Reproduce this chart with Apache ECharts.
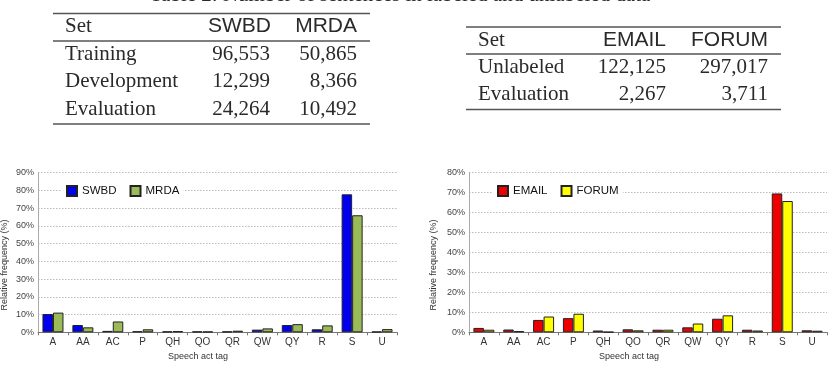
<!DOCTYPE html>
<html>
<head>
<meta charset="utf-8">
<script src="https://cdn.jsdelivr.net/npm/echarts@6/dist/echarts.min.js"></script>
<style>
html,body{margin:0;padding:0;background:#fff;}
#c{width:835px;height:370px;}
</style>
</head>
<body>
<div id="c"></div>
<script>
// ---- data ----
const tags = ['A','AA','AC','P','QH','QO','QR','QW','QY','R','S','U'];
const swbd  = [10.3, 4.1, 0.8, 0.6, 0.5, 0.5, 0.5, 1.5, 4.1, 1.7, 77.8, 0.4];
const mrda  = [11.1, 2.8, 6.1, 1.7, 0.7, 0.4, 0.9, 2.2, 4.6, 3.9, 66.0, 1.8];
const email = [2.2, 1.4, 6.2, 7.1, 0.9, 1.5, 1.3, 2.5, 6.8, 1.3, 69.6, 1.0];
const forum = [1.3, 0.6, 7.9, 9.3, 0.2, 1.0, 1.3, 4.4, 8.5, 0.9, 65.8, 0.8];

const titleText = 'Table 2: Number of sentences in labeled and unlabeled data';
const t1Header = ['Set', 'SWBD', 'MRDA'];
const t1Rows = ['Training', 'Development', 'Evaluation'];
const t1Swbd = ['96,553', '12,299', '24,264'];
const t1Mrda = ['50,865', '8,366', '10,492'];
const t2Header = ['Set', 'EMAIL', 'FORUM'];
const t2Rows = ['Unlabeled', 'Evaluation'];
const t2Email = ['122,125', '2,267'];
const t2Forum = ['297,017', '3,711'];

const yTitle = 'Relative frequency (%)';
const xTitle = 'Speech act tag';

// ---- styles ----
const SERIF = 'Liberation Serif';
const SANS = 'Liberation Sans';
const TXT = '#2a2a2a';

function txt(x, y, s, font, align) {
  return {type:'text', x:x, y:y, silent:true,
    style:{text:s, font:font, fill:TXT, align:align, verticalAlign:'middle'}};
}
function rule(x1, x2, y) {
  return {type:'line', silent:true, shape:{x1:x1, y1:y, x2:x2, y2:y},
    style:{stroke:'#555', lineWidth:1.3}};
}

const graphics = [];
graphics.push({type:'text', x:400, y:-5, silent:true,
  style:{text:titleText, font:'21px ' + SERIF, fill:TXT, align:'center', verticalAlign:'middle'}});

// table 1
graphics.push(rule(53, 370, 13.5), rule(53, 370, 41), rule(53, 370, 124));
graphics.push(txt(65, 26, t1Header[0], '21px ' + SERIF, 'left'));
graphics.push(txt(271, 26, t1Header[1], '21px ' + SANS, 'right'));
graphics.push(txt(357, 26, t1Header[2], '21px ' + SANS, 'right'));
const t1Y = [54, 81.5, 109];
t1Rows.forEach((r, i) => {
  graphics.push(txt(65, t1Y[i], r, '21px ' + SERIF, 'left'));
  graphics.push(txt(270, t1Y[i], t1Swbd[i], '21px ' + SERIF, 'right'));
  graphics.push(txt(357, t1Y[i], t1Mrda[i], '21px ' + SERIF, 'right'));
});

// table 2
graphics.push(rule(466, 781, 27), rule(466, 781, 54), rule(466, 781, 109.5));
graphics.push(txt(478, 40, t2Header[0], '21px ' + SERIF, 'left'));
graphics.push(txt(666, 40, t2Header[1], '21px ' + SANS, 'right'));
graphics.push(txt(768, 40, t2Header[2], '21px ' + SANS, 'right'));
const t2Y = [67.5, 94.5];
t2Rows.forEach((r, i) => {
  graphics.push(txt(478, t2Y[i], r, '21px ' + SERIF, 'left'));
  graphics.push(txt(666, t2Y[i], t2Email[i], '21px ' + SERIF, 'right'));
  graphics.push(txt(768, t2Y[i], t2Forum[i], '21px ' + SERIF, 'right'));
});

// axis titles
graphics.push({type:'text', x:5, y:265, rotation:Math.PI/2, silent:true,
  style:{text:yTitle, font:'9px ' + SANS, fill:'#333', align:'center', verticalAlign:'middle'}});
graphics.push({type:'text', x:434, y:265, rotation:Math.PI/2, silent:true,
  style:{text:yTitle, font:'9px ' + SANS, fill:'#333', align:'center', verticalAlign:'middle'}});
graphics.push({type:'text', x:198, y:357, silent:true,
  style:{text:xTitle, font:'9px ' + SANS, fill:'#333', align:'center', verticalAlign:'middle'}});
graphics.push({type:'text', x:629, y:357, silent:true,
  style:{text:xTitle, font:'9px ' + SANS, fill:'#333', align:'center', verticalAlign:'middle'}});

function xAxisCfg(gi) {
  return {type:'category', gridIndex:gi, data:tags, boundaryGap:true,
    axisLine:{lineStyle:{color:'#777', width:1}},
    axisTick:{show:true, length:3, lineStyle:{color:'#777'}},
    axisLabel:{fontFamily:SANS, fontSize:10, color:'#333', margin:5}};
}
function yAxisCfg(gi, max) {
  return {type:'value', gridIndex:gi, min:0, max:max, interval:10,
    axisLine:{show:true, lineStyle:{color:'#aaa'}},
    axisTick:{show:false},
    axisLabel:{fontFamily:SANS, fontSize:9, color:'#444', formatter:'{value}%', margin:4},
    splitLine:{show:true, lineStyle:{color:'#bbb', type:[1.5,1.5], width:1}}};
}
function bar(name, data, gi, color) {
  return {name:name, type:'bar', xAxisIndex:gi, yAxisIndex:gi, data:data,
    barWidth:10.5, barGap:'0%', animation:false,
    itemStyle:{color:color, borderColor:'#222', borderWidth:1}};
}
function legendCfg(names, left) {
  return {data:names, left:left, top:184, orient:'horizontal',
    backgroundColor:'#fff', padding:[1,4,1,4], itemGap:13,
    itemWidth:10, itemHeight:10, icon:'rect',
    textStyle:{fontFamily:SANS, fontSize:11.5, color:'#111'}};
}

const chart = echarts.init(document.getElementById('c'), null, {renderer:'canvas'});
chart.setOption({
  animation:false,
  backgroundColor:'#fff',
  grid:[
    {left:38, top:172.7, width:359, height:159.6},
    {left:469, top:172.7, width:358, height:159.6}
  ],
  xAxis:[xAxisCfg(0), xAxisCfg(1)],
  yAxis:[yAxisCfg(0, 90), yAxisCfg(1, 80)],
  legend:[legendCfg(['SWBD','MRDA'], 62), legendCfg(['EMAIL','FORUM'], 493)],
  series:[
    bar('SWBD', swbd, 0, '#0000ee'),
    bar('MRDA', mrda, 0, '#9bbb59'),
    bar('EMAIL', email, 1, '#ee0000'),
    bar('FORUM', forum, 1, '#ffff00')
  ],
  graphic:graphics
});
</script>
</body>
</html>
